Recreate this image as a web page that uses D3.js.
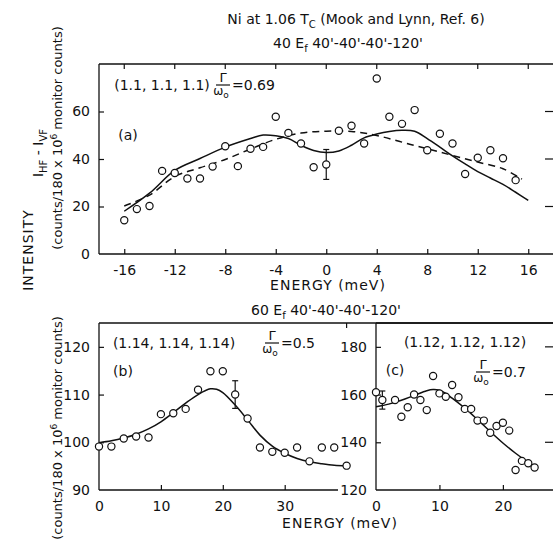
<!DOCTYPE html>
<html>
<head>
<meta charset="utf-8">
<script src="https://cdn.jsdelivr.net/npm/d3@7/dist/d3.min.js"></script>
<style>
  body { margin: 0; background: #fff; }
  svg { display: block; }
  text { font-family: "DejaVu Sans", sans-serif; fill: #111; }
</style>
</head>
<body>
<svg id="chart" width="553" height="539"></svg>
<script>
// ---- panel (a): (1.1,1.1,1.1), 40 Ef ----
var aEnergy = [-16,-15,-14,-13,-12,-11,-10,-9,-8,-7,-6,-5,-4,-3,-2,-1,0,1,2,3,4,5,6,7,8,9,10,11,12,13,14,15];
var aIntensity = [14.2,18.9,20.2,35.0,34.1,31.8,31.8,36.8,45.4,37.0,44.3,45.1,57.8,51.0,46.5,36.5,37.7,51.9,54.0,46.5,73.9,57.8,54.8,60.6,43.7,50.6,46.5,33.7,40.5,43.7,40.3,31.1];
var aSolidE = [-16,-14,-12,-10,-8,-6,-5,-4,-3,-2,-1,0,1,2,3,4,5,6,7,8,9,10,11,12,13,14,15,16];
var aSolidI = [18.0,25.6,35.2,40.2,45.0,48.6,50.1,49.8,48.6,45.8,43.6,42.7,43.4,45.8,48.9,50.5,51.6,52.1,51.7,48.6,45.0,41.3,37.9,34.7,32.0,29.3,26.0,22.6];
var aDashE = [-16,-14,-12,-10,-8,-6,-4,-2,0,2,4,6,8,10,12,14,15.5];
var aDashI = [20.2,24.8,32.6,36.3,39.8,44.2,48.3,50.9,51.7,51.6,49.9,47.1,44.3,41.5,38.7,35.9,31.5];
var aErrE = [0], aErrI = [37.7], aErrD = [6.3];
var aTicksX = [-16,-12,-8,-4,0,4,8,12,16];
var aTicksY = [0,20,40,60];

// ---- panel (b): (1.14,1.14,1.14), 60 Ef ----
var bEnergy = [0,2,4,6,8,10,12,14,16,18,20,22,24,26,28,30,32,34,36,38,40];
var bIntensity = [99.1,99.1,100.8,101.2,101.0,105.9,106.1,107.0,111.0,114.9,114.9,110.0,105.0,98.9,98.0,97.8,98.9,96.0,98.9,98.9,95.1];
var bFitE = [0,2,4,6,8,10,12,14,16,18,19,20,22,24,26,28,30,32,34,36,38,40];
var bFitI = [99.9,100.3,100.9,101.7,102.8,104.3,106.2,108.2,110.0,111.2,111.1,110.4,107.8,104.7,101.5,99.2,97.7,96.6,95.9,95.5,95.2,95.1];
var bErrE = [22], bErrI = [110.0], bErrD = [2.9];
var bTicksX = [0,10,20,30];
var bTicksY = [90,100,110,120];

// ---- panel (c): (1.12,1.12,1.12), 60 Ef ----
var cEnergy = [0,1,3,4,5,6,7,8,9,10,11,12,13,14,15,16,17,18,19,20,21,22,23,24,25];
var cIntensity = [161.0,157.7,157.7,150.7,154.7,160.0,157.7,153.5,167.8,160.5,159.1,164.0,158.9,154.0,154.0,149.1,149.1,144.0,146.8,148.2,144.9,128.4,132.2,131.2,129.4];
var cFitE = [0,2,4,6,8,9,10,11,12,14,16,18,20,22,24];
var cFitI = [154.9,156.0,157.6,159.6,161.6,162.1,161.8,160.5,158.5,154.3,149.5,144.5,139.7,135.4,131.5];
var cErrE = [1], cErrI = [157.7], cErrD = [3.8];
var cTicksX = [0,10,20];
var cTicksY = [120,140,160,180];

var svg = d3.select("#chart");
var TICK = 5;

function pairs(xs, ys) {
  return xs.map(function(x, i) { return [x, ys[i]]; });
}

function drawPanel(p) {
  var g = svg.append("g");
  var x = p.x, y = p.y;
  var x0 = x.range()[0], x1 = x.range()[1];
  var yb = y.range()[0], yt = y.range()[1];

  // frame: top, left, bottom (right side open, ticks only)
  g.append("line").attr("x1", x0).attr("x2", p.topEnd).attr("y1", yt).attr("y2", yt)
    .attr("stroke", "#111").attr("stroke-width", 1.3);
  g.append("line").attr("x1", x0).attr("x2", x0).attr("y1", yt).attr("y2", yb)
    .attr("stroke", "#111").attr("stroke-width", 1.3);
  g.append("line").attr("x1", x0).attr("x2", p.bottomEnd).attr("y1", yb).attr("y2", yb)
    .attr("stroke", "#111").attr("stroke-width", 1.3);

  // bottom axis, inward ticks
  var bottom = d3.axisBottom(x).tickValues(p.ticksX).tickSizeInner(-TICK).tickSizeOuter(0)
    .tickPadding(TICK + 6).tickFormat(function(d) { return d < 0 ? "-" + (-d) : d; });
  var gb = g.append("g").attr("transform", "translate(0," + yb + ")").call(bottom);
  gb.select(".domain").remove();
  gb.selectAll("text").style("font-size", "14px").style("font-family", "DejaVu Sans");
  gb.selectAll("line").attr("stroke", "#111").attr("stroke-width", 1.2);
  if (p.hideX0) gb.selectAll(".tick").filter(function(d) { return d === 0; }).select("line").remove();

  // left axis, inward ticks
  var left = d3.axisLeft(y).tickValues(p.ticksY).tickSizeInner(-TICK).tickSizeOuter(0)
    .tickPadding(TICK + 4);
  var gl = g.append("g").attr("transform", "translate(" + x0 + ",0)").call(left);
  gl.select(".domain").remove();
  gl.selectAll("text").style("font-size", "14px").style("font-family", "DejaVu Sans");
  gl.selectAll(".tick line").attr("stroke", "#111").attr("stroke-width", 1.2);
  gl.selectAll(".tick").filter(function(d) { return d === p.ticksY[0]; }).select("line").remove();

  // top ticks
  if (p.topTicks) {
    g.selectAll(".ttick").data(p.topTicks).enter().append("line")
      .attr("x1", function(d) { return x(d); }).attr("x2", function(d) { return x(d); })
      .attr("y1", yt).attr("y2", yt + TICK).attr("stroke", "#111").attr("stroke-width", 1.2);
  }
  // right ticks
  if (p.rightTicks) {
    g.selectAll(".rtick").data(p.rightTicks).enter().append("line")
      .attr("x1", 545).attr("x2", 553)
      .attr("y1", function(d) { return y(d); }).attr("y2", function(d) { return y(d); })
      .attr("stroke", "#111").attr("stroke-width", 1.2);
  }

  var line = d3.line().x(function(d) { return x(d[0]); }).y(function(d) { return y(d[1]); })
    .curve(d3.curveCatmullRom.alpha(0.5));

  p.fits.forEach(function(f) {
    g.append("path").datum(pairs(f.e, f.i))
      .attr("fill", "none").attr("stroke", "#111").attr("stroke-width", 1.5)
      .attr("stroke-dasharray", f.dash || null)
      .attr("d", line);
  });

  // error bars
  p.err.e.forEach(function(e, k) {
    var cx = x(e), ya = y(p.err.i[k] + p.err.d[k]), yz = y(p.err.i[k] - p.err.d[k]);
    g.append("line").attr("x1", cx).attr("x2", cx).attr("y1", ya).attr("y2", yz)
      .attr("stroke", "#111").attr("stroke-width", 1.2);
    [ya, yz].forEach(function(yy) {
      g.append("line").attr("x1", cx - 3).attr("x2", cx + 3).attr("y1", yy).attr("y2", yy)
        .attr("stroke", "#111").attr("stroke-width", 1.2);
    });
  });

  g.selectAll("circle.pt").data(pairs(p.energy, p.intensity)).enter().append("circle")
    .attr("class", "pt")
    .attr("cx", function(d) { return x(d[0]); })
    .attr("cy", function(d) { return y(d[1]); })
    .attr("r", 3.6)
    .attr("fill", "#fff").attr("stroke", "#111").attr("stroke-width", 1.2);

  return g;
}

// scales
var xa = d3.scaleLinear().domain([-18, 18]).range([99, 553.5]);
var ya = d3.scaleLinear().domain([0, 80]).range([254, 64]);
var xb = d3.scaleLinear().domain([0, 44.75]).range([99, 376]);
var yb = d3.scaleLinear().domain([90, 125]).range([490, 323]);
var xc = d3.scaleLinear().domain([0, 27.9]).range([376, 553]);
var yc = d3.scaleLinear().domain([120, 190]).range([490, 323]);

drawPanel({
  x: xa, y: ya, topEnd: 553, bottomEnd: 553,
  ticksX: aTicksX, ticksY: aTicksY, topTicks: aTicksX, rightTicks: [20, 40, 60],
  energy: aEnergy, intensity: aIntensity,
  fits: [{e: aSolidE, i: aSolidI}, {e: aDashE, i: aDashI, dash: "7,5"}],
  err: {e: aErrE, i: aErrI, d: aErrD}
});
drawPanel({
  x: xb, y: yb, topEnd: 553, bottomEnd: 338,
  ticksX: bTicksX, ticksY: bTicksY, topTicks: [40], hideX0: true,
  energy: bEnergy, intensity: bIntensity,
  fits: [{e: bFitE, i: bFitI}],
  err: {e: bErrE, i: bErrI, d: bErrD}
});
drawPanel({
  x: xc, y: yc, topEnd: 553, bottomEnd: 553,
  ticksX: cTicksX, ticksY: cTicksY, rightTicks: [140, 160, 180], hideX0: true,
  energy: cEnergy, intensity: cIntensity,
  fits: [{e: cFitE, i: cFitI}],
  err: {e: cErrE, i: cErrI, d: cErrD}
});

// ---- texts ----
function txt(x, y, s, size, anchor) {
  return svg.append("text").attr("x", x).attr("y", y).attr("text-anchor", anchor || "middle")
    .style("font-size", (size || 14) + "px").text(s);
}

var t1 = svg.append("text").attr("x", 356).attr("y", 24).attr("text-anchor", "middle").style("font-size", "14px");
t1.append("tspan").text("Ni at 1.06 T");
t1.append("tspan").attr("dy", 4).style("font-size", "10px").text("C");
t1.append("tspan").attr("dy", -4).text(" (Mook and Lynn, Ref. 6)");

var t2 = svg.append("text").attr("x", 348).attr("y", 48).attr("text-anchor", "middle").style("font-size", "14px");
t2.append("tspan").text("40 E");
t2.append("tspan").attr("dy", 4).style("font-size", "10px").text("f");
t2.append("tspan").attr("dy", -4).text("  40'-40'-40'-120'");

var t3 = svg.append("text").attr("x", 326).attr("y", 315).attr("text-anchor", "middle").style("font-size", "14px");
t3.append("tspan").text("60 E");
t3.append("tspan").attr("dy", 4).style("font-size", "10px").text("f");
t3.append("tspan").attr("dy", -4).text("  40'-40'-40'-120'");

txt(328, 290, "ENERGY (meV)").style("letter-spacing", "1px");
txt(340, 528, "ENERGY (meV)").style("letter-spacing", "1px");

// panel labels
txt(162, 90, "(1.1, 1.1, 1.1)");
txt(128, 140, "(a)");
txt(174, 348, "(1.14, 1.14, 1.14)");
txt(123, 376, "(b)");
txt(465, 347, "(1.12, 1.12, 1.12)");
txt(395, 375, "(c)");

function gammaRatio(x, y, value) {
  var g = svg.append("g").attr("transform", "translate(" + x + "," + y + ")");
  g.append("text").attr("x", 0).attr("y", -4).attr("text-anchor", "middle").style("font-size", "13px").text("\u0393");
  g.append("line").attr("x1", -7).attr("x2", 7).attr("y1", -1).attr("y2", -1).attr("stroke", "#111").attr("stroke-width", 1.2);
  var w = g.append("text").attr("x", -2).attr("y", 9).attr("text-anchor", "middle").style("font-size", "12px");
  w.append("tspan").text("\u03c9");
  w.append("tspan").attr("dy", 3).style("font-size", "9px").text("o");
  g.append("text").attr("x", 9).attr("y", 4).attr("text-anchor", "start").style("font-size", "14px").text("=" + value);
}
gammaRatio(223, 86, "0.69");
gammaRatio(272, 344, "0.5");
gammaRatio(483, 373, "0.7");

// vertical axis labels
function vtext(x, y, size) {
  return svg.append("text").attr("transform", "translate(" + x + "," + y + ") rotate(-90)")
    .attr("text-anchor", "middle").style("font-size", size + "px");
}
vtext(33, 250, 14).style("letter-spacing", "1px").text("INTENSITY");

var ih = vtext(43, 153, 14);
ih.append("tspan").text("I");
ih.append("tspan").attr("dy", 4).style("font-size", "10px").text("HF");
ih.append("tspan").attr("dy", -4).text(" - I");
ih.append("tspan").attr("dy", 4).style("font-size", "10px").text("VF");

function countsLabel(x, y) {
  var t = vtext(x, y, 13);
  t.append("tspan").text("(counts/180 x 10");
  t.append("tspan").attr("dy", -5).style("font-size", "9px").text("6");
  t.append("tspan").attr("dy", 5).text(" monitor counts)");
}
countsLabel(62, 138);
countsLabel(62, 428);
</script>
</body>
</html>
